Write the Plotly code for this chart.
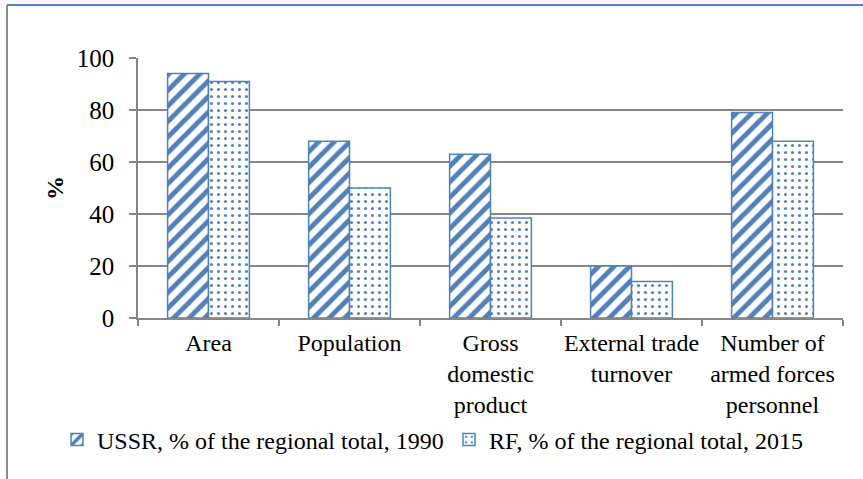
import plotly.graph_objects as go

categories = ["Area", "Population", "Gross<br>domestic<br>product",
              "External trade<br>turnover", "Number of<br>armed forces<br>personnel"]
ussr_1990 = [94, 68, 63, 20, 79]
rf_2015 = [91, 50, 38.5, 14, 68]
y_ticks = [0, 20, 40, 60, 80, 100]

BLUE = "#4F81BD"
FONT = "Liberation Serif"

W, H = 863, 479
L, R, T, B = 138, 20, 58, 161
pw, ph = W - L - R, H - T - B

def px_x(px):
    return (px - L) / pw

def px_y(py):
    return (H - B - py) / ph

fig = go.Figure()
fig.add_trace(go.Bar(
    x=categories, y=ussr_1990, name="USSR, % of the regional total, 1990",
    marker=dict(color="white", line=dict(color=BLUE, width=1.5),
                pattern=dict(shape="/", fgcolor=BLUE, bgcolor="white", fgopacity=1,
                             size=11, solidity=0.45, fillmode="overlay")),
))
fig.add_trace(go.Bar(
    x=categories, y=rf_2015, name="RF, % of the regional total, 2015",
    marker=dict(color="white", line=dict(color=BLUE, width=1.5),
                pattern=dict(shape=".", fgcolor=BLUE, bgcolor="white", fgopacity=1,
                             size=7, solidity=0.15, fillmode="overlay")),
))

fig.update_layout(
    width=W, height=H,
    margin=dict(l=L, r=R, t=T, b=B),
    paper_bgcolor="white", plot_bgcolor="white",
    barmode="group", bargap=0.42, bargroupgap=0,
    font=dict(family=FONT, size=24, color="black"),
    showlegend=True,
    legend=dict(orientation="h", x=px_x(57), xanchor="left",
                y=px_y(440), yanchor="middle",
                font=dict(size=24, family=FONT),
                entrywidth=347, entrywidthmode="pixels",
                itemwidth=30, bgcolor="rgba(0,0,0,0)",
                traceorder="normal"),
    xaxis=dict(
        tickson="boundaries", ticks="outside", ticklen=6, tickcolor="#868686",
        tickwidth=1.5, showline=True, linecolor="#868686", linewidth=1.5,
        tickfont=dict(size=24, family=FONT), showgrid=False,
        tickangle=0, automargin=False, ticklabelstandoff=2,
    ),
    yaxis=dict(
        range=[0, 100], tickvals=y_ticks, ticks="outside", ticklen=7,
        tickcolor="#868686", tickwidth=1.5, showline=True, linecolor="#868686",
        linewidth=1.5, showgrid=True, gridcolor="#868686", gridwidth=1.5,
        tickfont=dict(size=25, family=FONT), ticklabelstandoff=10,
        title=dict(text="<b>%</b>", font=dict(size=24, family=FONT), standoff=6),
        zeroline=False, automargin=False,
    ),
    shapes=[
        dict(type="line", xref="paper", yref="paper",
             x0=px_x(7), x1=px_x(863), y0=px_y(5), y1=px_y(5),
             line=dict(color=BLUE, width=2)),
        dict(type="line", xref="paper", yref="paper",
             x0=px_x(7), x1=px_x(7), y0=px_y(5), y1=px_y(479),
             line=dict(color="#8c8c8c", width=2)),
    ],
)

fig.write_html("out.html", config={"displayModeBar": False},
               post_script="document.body.style.margin='0';document.body.style.overflow='hidden';")
